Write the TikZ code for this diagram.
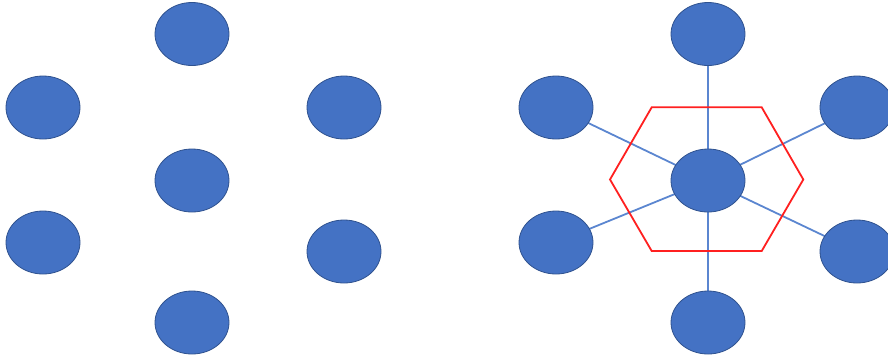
\documentclass[tikz,border=0pt]{standalone}
\usetikzlibrary{shapes.geometric}
\definecolor{dotfill}{HTML}{4472C4}
\definecolor{dotedge}{HTML}{2F528F}
\definecolor{linkblue}{HTML}{5B86D0}
\definecolor{hexred}{HTML}{FF2020}
\begin{document}
\begin{tikzpicture}[x=1pt,y=-1pt,
  dot/.style={ellipse,fill=dotfill,draw=dotedge,line width=0.8pt,minimum width=74pt,minimum height=63pt,inner sep=0pt},
  link/.style={draw=linkblue,line width=1.8pt},
  hex/.style={draw=hexred,line width=1.8pt,line join=miter}]
\useasboundingbox (0,0) rectangle (888,360);
\begin{scope}
\clip (0,0) rectangle (888,360);
% left group
\node[dot] (lt) at (192,34) {};
\node[dot] (lul) at (43,107.5) {};
\node[dot] (lur) at (344,107.5) {};
\node[dot] (lc) at (192,180.5) {};
\node[dot] (lll) at (43,242.5) {};
\node[dot] (llr) at (344,251.5) {};
\node[dot] (lb) at (192,322.5) {};
% right group: connectors first
\coordinate (rt) at (708,34);
\coordinate (rul) at (556,107.5);
\coordinate (rur) at (857,107.5);
\coordinate (rc) at (708,180.5);
\coordinate (rll) at (556,242.5);
\coordinate (rlr) at (857,251.5);
\coordinate (rb) at (708,322.5);
\draw[link] (rc) -- (rt);
\draw[link] (rc) -- (rb);
\draw[link] (rc) -- (rul);
\draw[link] (rc) -- (rur);
\draw[link] (rc) -- (rll);
\draw[link] (rc) -- (rlr);
\coordinate (h1) at (651.7,107.3);
\coordinate (h2) at (761.7,107.3);
\coordinate (h3) at (803.3,179.5);
\coordinate (h4) at (761.7,251);
\coordinate (h5) at (651.7,251);
\coordinate (h6) at (610,179.5);
\draw[hex] (h1) -- (h2) -- (h3) -- (h4) -- (h5) -- (h6) -- cycle;
\node[dot] (nt) at (rt) {};
\node[dot] (nul) at (rul) {};
\node[dot] (nur) at (rur) {};
\node[dot] (nc) at (rc) {};
\node[dot] (nll) at (rll) {};
\node[dot] (nlr) at (rlr) {};
\node[dot] (nb) at (rb) {};
\end{scope}
\end{tikzpicture}
\end{document}
